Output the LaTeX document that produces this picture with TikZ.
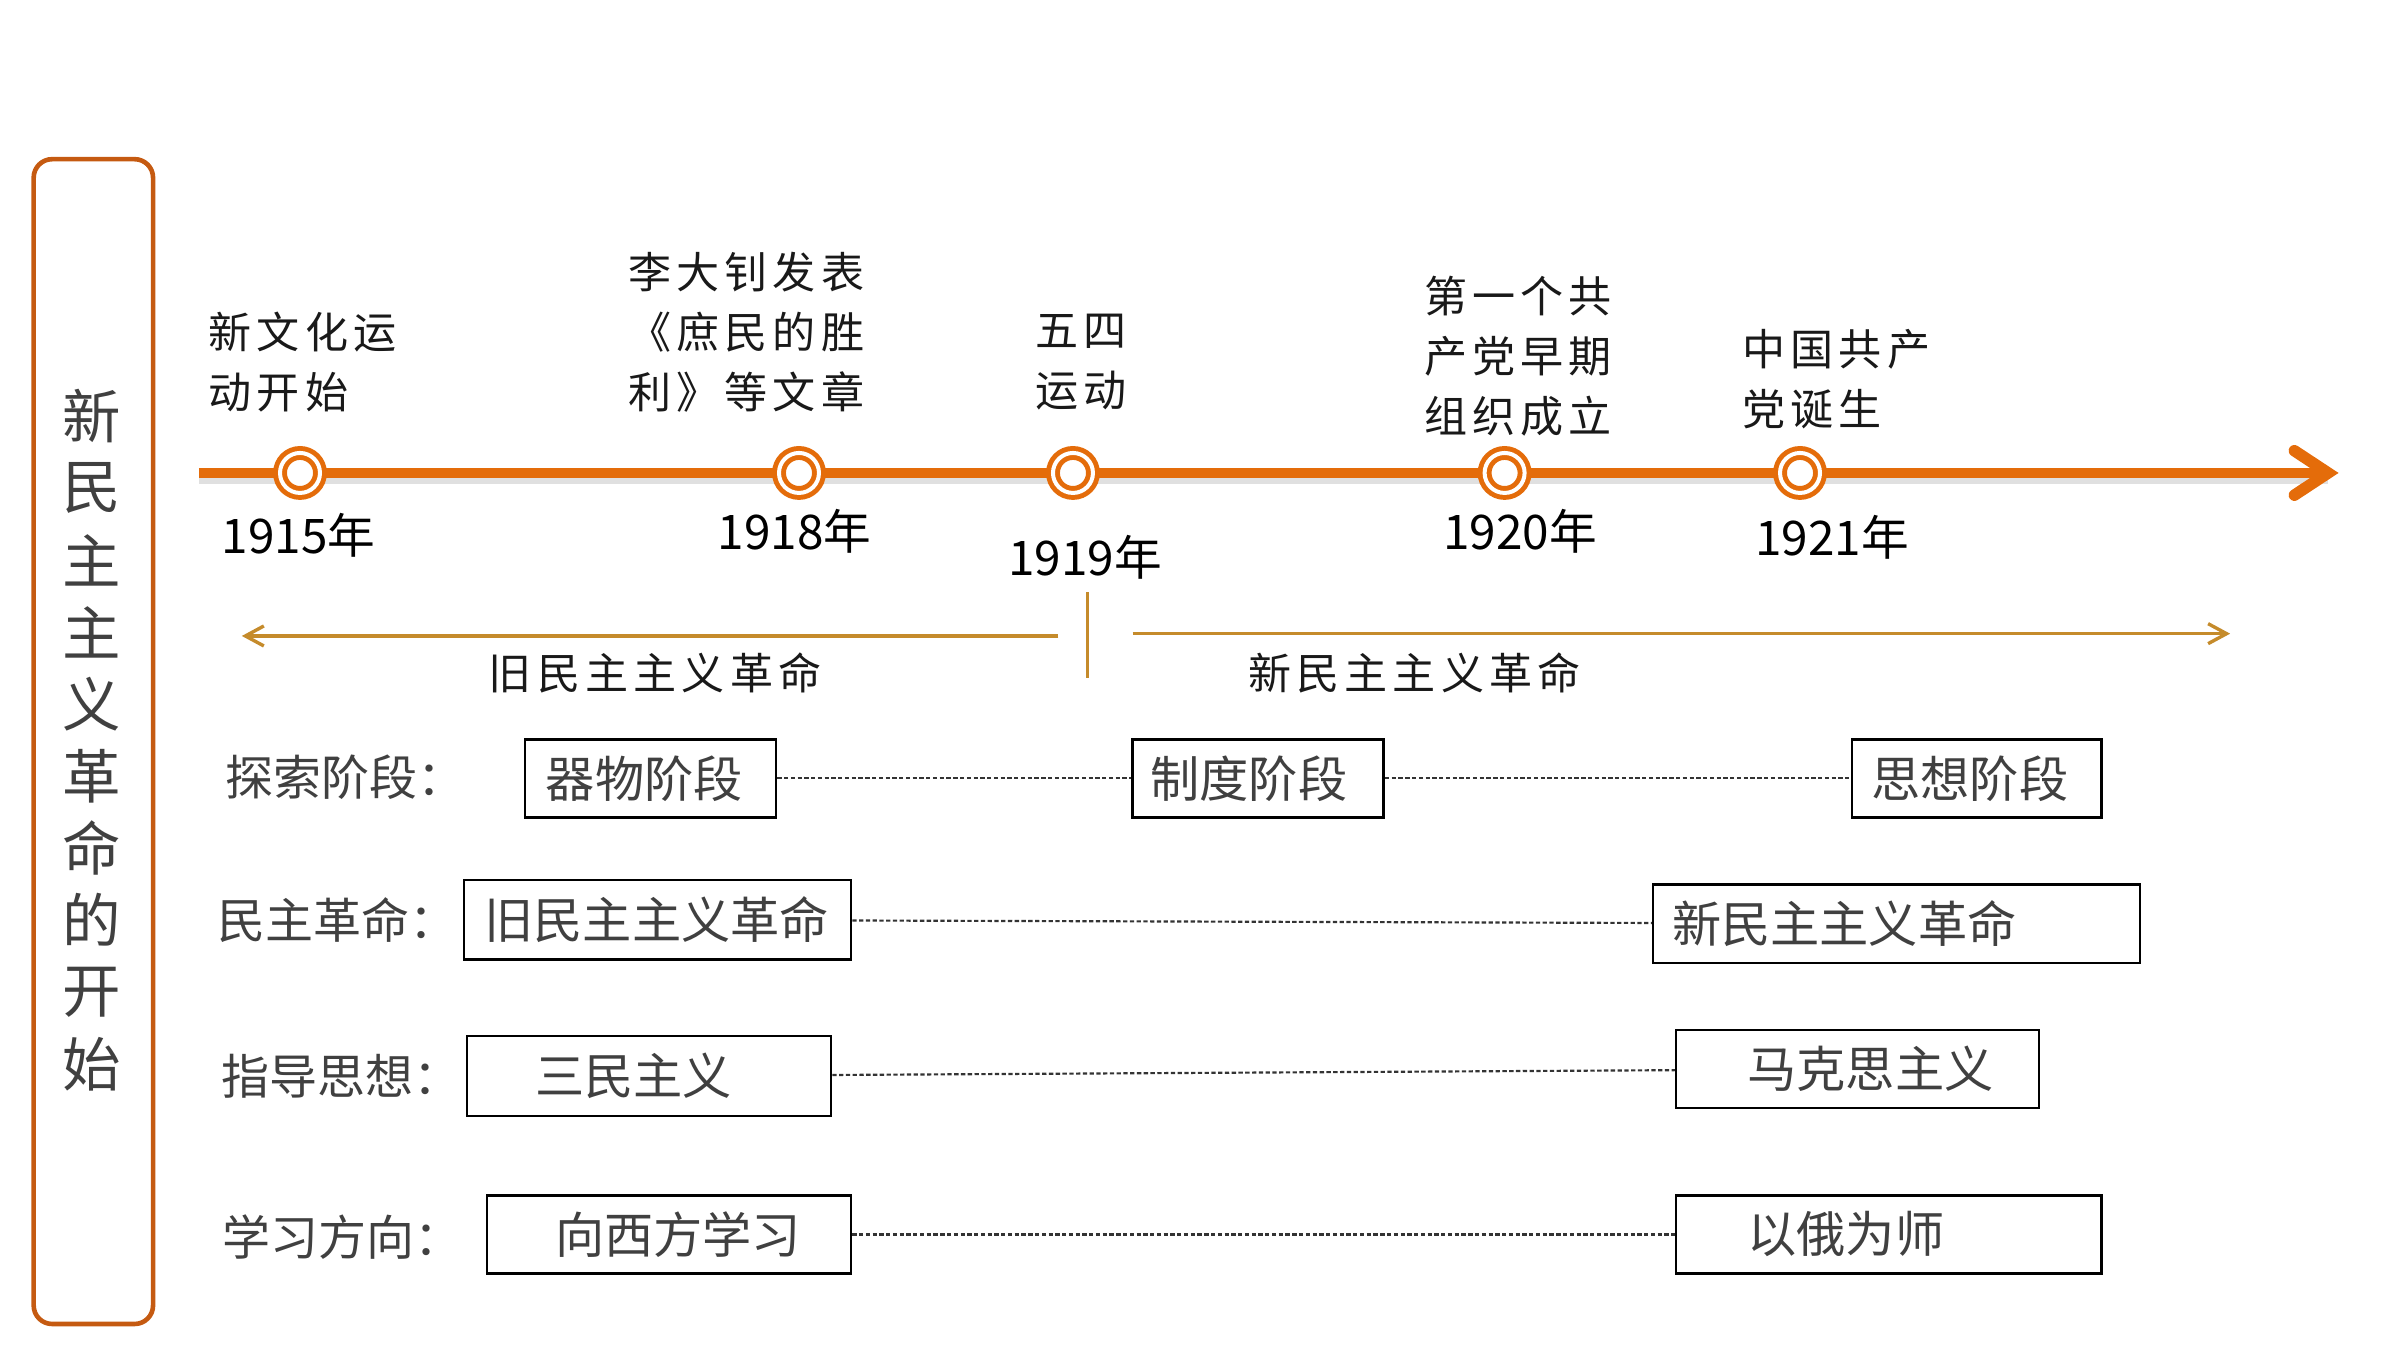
\documentclass[tikz,border=0pt]{standalone}
\usepackage{fontspec}
\setmainfont{Noto Sans CJK SC}
\newfontfamily\cjkls[LetterSpace=12]{Noto Sans CJK SC}
\usetikzlibrary{arrows.meta}
\definecolor{tlorange}{HTML}{E46C0A}
\definecolor{frameor}{HTML}{C55A11}
\definecolor{brownln}{HTML}{C58B2B}
\definecolor{txtgray}{HTML}{404040}
\definecolor{dotgray}{HTML}{333333}
\tikzset{
  titlech/.style={font=\fontsize{19pt}{19pt}\selectfont, text=txtgray, inner sep=0pt},
  evlabel/.style={font=\cjkls\fontsize{14pt}{19.5pt}\selectfont, text=black!90, align=left, anchor=west, inner sep=0pt},
  revlabel/.style={font=\cjkls\fontsize{14pt}{19.5pt}\selectfont, text=black!90, inner sep=0pt},
  yearlab/.style={font=\fontsize{15.5pt}{15.5pt}\selectfont, text=black, inner sep=0pt},
  ring/.style={circle, draw=tlorange, line width=1.6pt, double=white, double distance=1.3pt, fill=white, minimum size=13pt, inner sep=0pt},
  brownarrow/.style={draw=brownln, line width=1.1pt, -{Straight Barb[length=6pt,width=6.5pt]}},
  rowlab/.style={font=\fontsize{15.6pt}{15.6pt}\selectfont, text=txtgray, anchor=west, inner sep=0pt},
  boxtext/.style={font=\fontsize{16pt}{16pt}\selectfont, text=txtgray, inner sep=0pt},
  stagebox/.style 2 args={draw=black, line width=0.8pt, fill=white, minimum width=#1*0.4975pt, minimum height=#2*0.4975pt, inner sep=0pt, font=\fontsize{16pt}{16pt}\selectfont, text=txtgray},
  dotline/.style={draw=dotgray, line width=0.7pt, dash pattern=on 1.4pt off 0.8pt},
}
\begin{document}
\begin{tikzpicture}[x=0.4975pt,y=-0.4975pt]
\useasboundingbox (0,0) rectangle (1568,882);
% left title frame
\node[draw=frameor, line width=1.5pt, rounded corners=6pt, minimum width=78*0.4975pt, minimum height=761*0.4975pt, inner sep=0pt] (frame) at (61,484.5) {};
\foreach \ch [count=\i] in {新,民,主,主,义,革,命,的,开,始}
  \node[titlech] (t\i) at (60,{272+47*(\i-1)}) {\ch};
% timeline
\coordinate (tl0) at (130,309);
\coordinate (tl1) at (1521,309);
\coordinate (hd1) at (1499,294.5);
\coordinate (hd2) at (1499,323.5);
\draw[black!30, line width=3pt, opacity=0.4] ([yshift=-2.2pt]tl0) -- ([yshift=-2.2pt]tl1);
\draw[tlorange, line width=3.25pt] (tl0) -- (tl1);
\draw[tlorange, line width=3.75pt, line cap=round, line join=miter] (hd1) -- (tl1) -- (hd2);
\node[ring] (c1) at (196,309) {};
\node[ring] (c2) at (522,309) {};
\node[ring] (c3) at (701,309) {};
\node[ring] (c4) at (983,309) {};
\node[ring] (c5) at (1176,309) {};
% event labels
\node[evlabel] (e1) at (136,236.5) {新文化运\\动开始};
\node[evlabel] (e2) at (410,217) {李大钊发表\\《庶民的胜\\利》等文章};
\node[evlabel] (e3) at (676,236.5) {五四\\运动};
\node[evlabel] (e4) at (930,233) {第一个共\\产党早期\\组织成立};
\node[evlabel] (e5) at (1138,247.5) {中国共产\\党诞生};
% years
\node[yearlab] (y1) at (195,350) {1915年};
\node[yearlab] (y2) at (519,347) {1918年};
\node[yearlab] (y3) at (709,364) {1919年};
\node[yearlab] (y4) at (993,347) {1920年};
\node[yearlab] (y5) at (1197,351) {1921年};
% revolution arrows
\coordinate (la0) at (691.5,415.5);
\coordinate (la1) at (158,415.5);
\coordinate (ra0) at (740,414);
\coordinate (ra1) at (1457,414);
\coordinate (vt) at (710.5,387);
\coordinate (vb) at (710.5,443);
\draw[brownarrow] (la0) -- (la1);
\draw[brownarrow] (ra0) -- (ra1);
\draw[draw=brownln, line width=1.1pt] (vt) -- (vb);
\node[revlabel] (old) at (428,440) {旧民主主义革命};
\node[revlabel] (new) at (924,440) {新民主主义革命};
% rows
\node[rowlab] (r1) at (147,508) {探索阶段：};
\node[rowlab] (r2) at (142,601) {民主革命：};
\node[rowlab] (r3) at (144,703) {指导思想：};
\node[rowlab] (r4) at (145,808) {学习方向：};
% boxes
\node[stagebox={164}{51}] (b1) at (425,508.5) {};
\node[stagebox={164}{51}] (b2) at (822,508.5) {};
\node[stagebox={163}{51}] (b3) at (1291.5,508.5) {};
\node[stagebox={253}{52}] (b4) at (429.5,601) {};
\node[stagebox={318}{51}] (b5) at (1239,603.5) {};
\node[stagebox={238}{52}] (b6) at (424,703) {};
\node[stagebox={237}{51}] (b7) at (1213.5,698.5) {};
\node[stagebox={238}{51}] (b8) at (437,806.5) {};
\node[stagebox={278}{51}] (b9) at (1234,806.5) {};
\node[boxtext] (x1) at (421,508.5) {器物阶段};
\node[boxtext] (x2) at (816,508.5) {制度阶段};
\node[boxtext] (x3) at (1287,508.5) {思想阶段};
\node[boxtext] (x4) at (429,601) {旧民主主义革命};
\node[boxtext, anchor=west] (x5) at (1092,603.5) {新民主主义革命};
\node[boxtext] (x6) at (414,703) {三民主义};
\node[boxtext] (x7) at (1222,698.5) {马克思主义};
\node[boxtext] (x8) at (443,806.5) {向西方学习};
\node[boxtext] (x9) at (1206,806.5) {以俄为师};
% dotted connectors
\draw[dotline] (b1) -- (b2);
\draw[dotline] (b2) -- (b3);
\draw[dotline] (b4) -- (b5);
\draw[dotline] (b6) -- (b7);
\draw[dotline] (b8) -- (b9);
\end{tikzpicture}
\end{document}
